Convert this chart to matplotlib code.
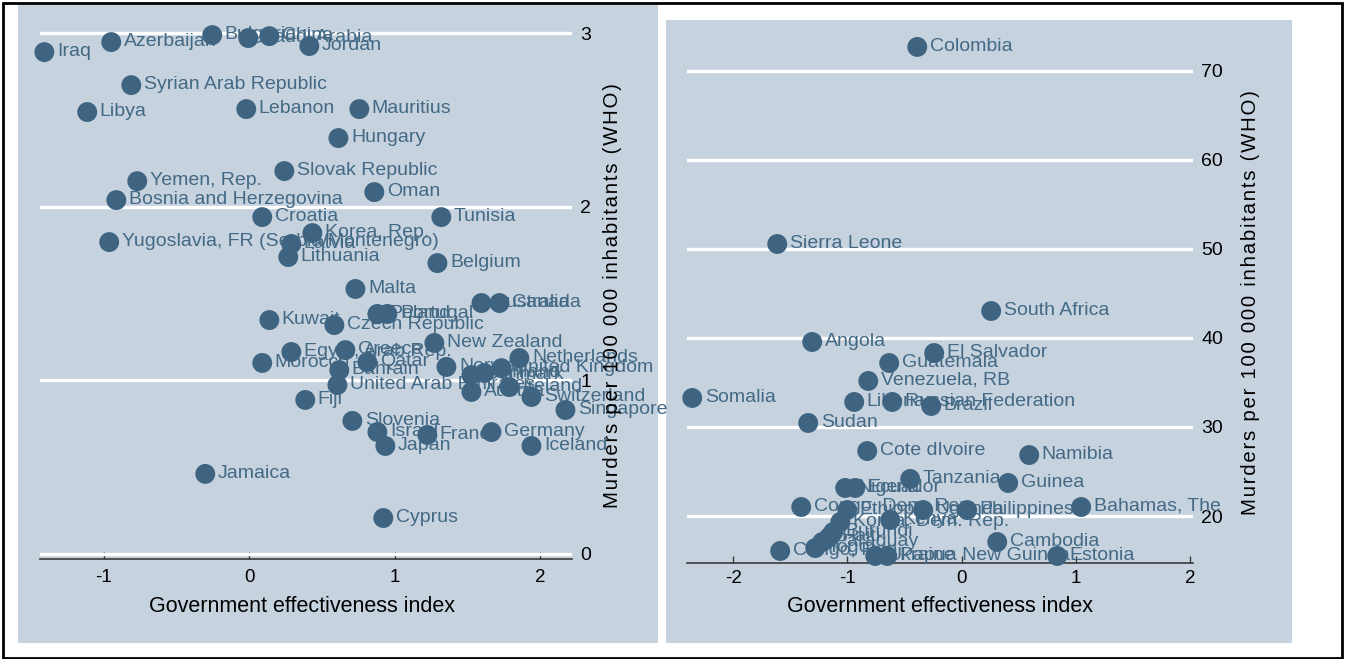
import matplotlib
matplotlib.use("Agg")
import matplotlib.pyplot as plt
from matplotlib.patches import Rectangle

# ---------------- data ----------------
left_names = ["Iraq", "Azerbaijan", "Bulgaria", "Saudi Arabia", "China", "Jordan",
              "Syrian Arab Republic", "Libya", "Lebanon", "Mauritius", "Hungary",
              "Slovak Republic", "Yemen, Rep.", "Bosnia and Herzegovina", "Oman",
              "Croatia", "Tunisia", "Korea, Rep.", "Yugoslavia, FR (Serbia/Montenegro)",
              "Latvia", "Lithuania", "Belgium", "Malta", "Australia", "Canada",
              "Poland", "Portugal", "Kuwait", "Czech Republic", "New Zealand",
              "Greece", "Egypt, Arab Rep.", "Morocco", "Qatar", "Bahrain",
              "United Arab Emirates", "Norway", "Netherlands", "Denmark", "Finland",
              "United Kingdom", "Ireland", "Austria", "Switzerland", "Singapore",
              "Fiji", "Slovenia", "Israel", "France", "Germany", "Japan", "Iceland",
              "Jamaica", "Cyprus"]
left_gov = [-1.41, -0.95, -0.255, -0.007, 0.138, 0.413,
            -0.812, -1.115, -0.021, 0.757, 0.613,
            0.241, -0.771, -0.915, 0.860,
            0.089, 1.321, 0.434, -0.964,
            0.289, 0.268, 1.294, 0.730, 1.597, 1.721,
            0.881, 0.950, 0.138, 0.585, 1.273,
            0.661, 0.289, 0.089, 0.812, 0.619,
            0.606, 1.356, 1.858, 1.528, 1.617,
            1.735, 1.789, 1.528, 1.941, 2.175,
            0.385, 0.709, 0.881, 1.225, 1.666, 0.936, 1.941,
            -0.303, 0.922]
left_murders = [2.890, 2.948, 2.988, 2.971, 2.982, 2.925,
                2.700, 2.545, 2.562, 2.562, 2.395,
                2.205, 2.147, 2.038, 2.084,
                1.940, 1.940, 1.848, 1.796,
                1.785, 1.710, 1.675, 1.526, 1.445, 1.445,
                1.382, 1.382, 1.347, 1.318, 1.215,
                1.174, 1.163, 1.100, 1.105, 1.059,
                0.973, 1.077, 1.128, 1.030, 1.042,
                1.070, 0.961, 0.933, 0.904, 0.829,
                0.887, 0.766, 0.702, 0.685, 0.702, 0.622, 0.622,
                0.461, 0.207]

right_names = ["Colombia", "Sierra Leone", "South Africa", "Angola", "El Salvador",
               "Guatemala", "Venezuela, RB", "Somalia", "Liberia", "Russian Federation",
               "Brazil", "Sudan", "Cote dIvoire", "Namibia", "Tanzania", "Guinea",
               "Nigeria", "Ecuador", "Congo, Dem. Rep.", "Ethiopia", "Uganda",
               "Philippines", "Bahamas, The", "Korea, Dem. Rep.", "Kenya", "Burundi",
               "Haiti", "Paraguay", "Togo", "Congo, Rep.", "Ukraine",
               "Papua New Guinea", "Cambodia", "Estonia"]
right_gov = [-0.389, -1.615, 0.258, -1.309, -0.241,
             -0.635, -0.818, -2.359, -0.941, -0.608,
             -0.267, -1.344, -0.827, 0.591, -0.451, 0.407,
             -1.020, -0.932, -1.405, -1.002, -0.337,
             0.048, 1.046, -1.063, -0.626, -1.125,
             -1.160, -1.221, -1.282, -1.589, -0.757,
             -0.652, 0.311, 0.836]
right_murders = [72.70, 50.56, 43.03, 39.55, 38.31,
                 37.19, 35.17, 33.26, 32.81, 32.81,
                 32.36, 30.45, 27.30, 26.85, 24.16, 23.71,
                 23.15, 23.15, 21.01, 20.67, 20.67,
                 20.67, 21.01, 19.33, 19.55, 18.20,
                 17.64, 17.08, 16.40, 16.07, 15.51,
                 15.51, 17.08, 15.51]

left_xticks = [-1, 0, 1, 2]
left_yticks = [0, 1, 2, 3]
right_xticks = [-2, -1, 0, 1, 2]
right_yticks = [20, 30, 40, 50, 60, 70]

xlabel = "Government effectiveness index"
ylabel = "Murders per 100 000 inhabitants (WHO)"

# ---------------- style ----------------
W, H = 1346, 659
BG = "#C6D3DF"
DOT = "#3E6481"
TXT = "#436985"
FONT = ["Liberation Sans", "DejaVu Sans"]
plt.rcParams["font.family"] = FONT

fig = plt.figure(figsize=(W / 100, H / 100), dpi=100)
fig.patch.set_facecolor("white")


def fx(px):
    return px / W


def fy(py):
    return 1 - py / H


def add_rect(x0, y0, x1, y1, **kw):
    fig.patches.append(Rectangle((fx(x0), fy(y1)), fx(x1) - fx(x0), fy(y0) - fy(y1),
                                 transform=fig.transFigure, **kw))


add_rect(18, 5, 658, 643, facecolor=BG, edgecolor="none", zorder=-5)
add_rect(666, 20, 1292, 643, facecolor=BG, edgecolor="none", zorder=-5)
add_rect(3, 3, 1342, 658, facecolor="none", edgecolor="black", linewidth=2.0, zorder=10)


def make_axes(px0, px1, py_top, py_bot, xlim, ylim, xticks, yticks, tickpad):
    ax = fig.add_axes([fx(px0), fy(py_bot), fx(px1) - fx(px0), fy(py_top) - fy(py_bot)])
    ax.set_zorder(1)
    ax.set_facecolor("none")
    ax.set_xlim(*xlim)
    ax.set_ylim(*ylim)
    for s in ["top", "left", "right"]:
        ax.spines[s].set_visible(False)
    ax.spines["bottom"].set_color("#3a3a3a")
    ax.spines["bottom"].set_linewidth(1.2)
    ax.set_xticks(xticks)
    ax.set_xticklabels([str(t) for t in xticks])
    ax.set_yticks(yticks)
    ax.set_yticklabels([str(t) for t in yticks])
    ax.tick_params(axis="x", direction="in", length=5, width=1, color="#3a3a3a",
                   labelsize=13.5, pad=tickpad, labelcolor="black")
    ax.yaxis.tick_right()
    ax.tick_params(axis="y", length=0, labelsize=14, pad=6, labelcolor="black")
    ax.yaxis.grid(True, color="white", linewidth=2.4)
    ax.xaxis.grid(False)
    ax.set_axisbelow(True)
    return ax


def scatter_labels(ax, xs, ys, names):
    for x, y, n in zip(xs, ys, names):
        ax.annotate(n, (x, y), xytext=(9, 0.5), textcoords="offset points",
                    va="center", ha="left", fontsize=14, color=TXT,
                    annotation_clip=False, zorder=3)
    ax.scatter(xs, ys, s=205, color=DOT, edgecolors="none", zorder=4, clip_on=False)


# left panel
axL = make_axes(40, 572, 20, 559, (-1.44, 2.22), (-0.029, 3.075),
                left_xticks, left_yticks, 7)
scatter_labels(axL, left_gov, left_murders, left_names)

# right panel
axR = make_axes(687, 1193, 35, 563, (-2.405, 2.025), (14.72, 74.04),
                right_xticks, right_yticks, 5)
scatter_labels(axR, right_gov, right_murders, right_names)

# axis titles
fig.text(fx(302), fy(606), xlabel, ha="center", va="center", fontsize=15.5, color="black")
fig.text(fx(940), fy(606), xlabel, ha="center", va="center", fontsize=15.5, color="black")
spaced = "\u200a".join(ylabel)
fig.text(fx(613), fy(296), spaced, ha="center", va="center", rotation=90,
         fontsize=14.7, color="black", family=FONT)
fig.text(fx(1250), fy(303), spaced, ha="center", va="center", rotation=90,
         fontsize=14.7, color="black", family=FONT)

fig.savefig("out.png", dpi=100, facecolor="white")
